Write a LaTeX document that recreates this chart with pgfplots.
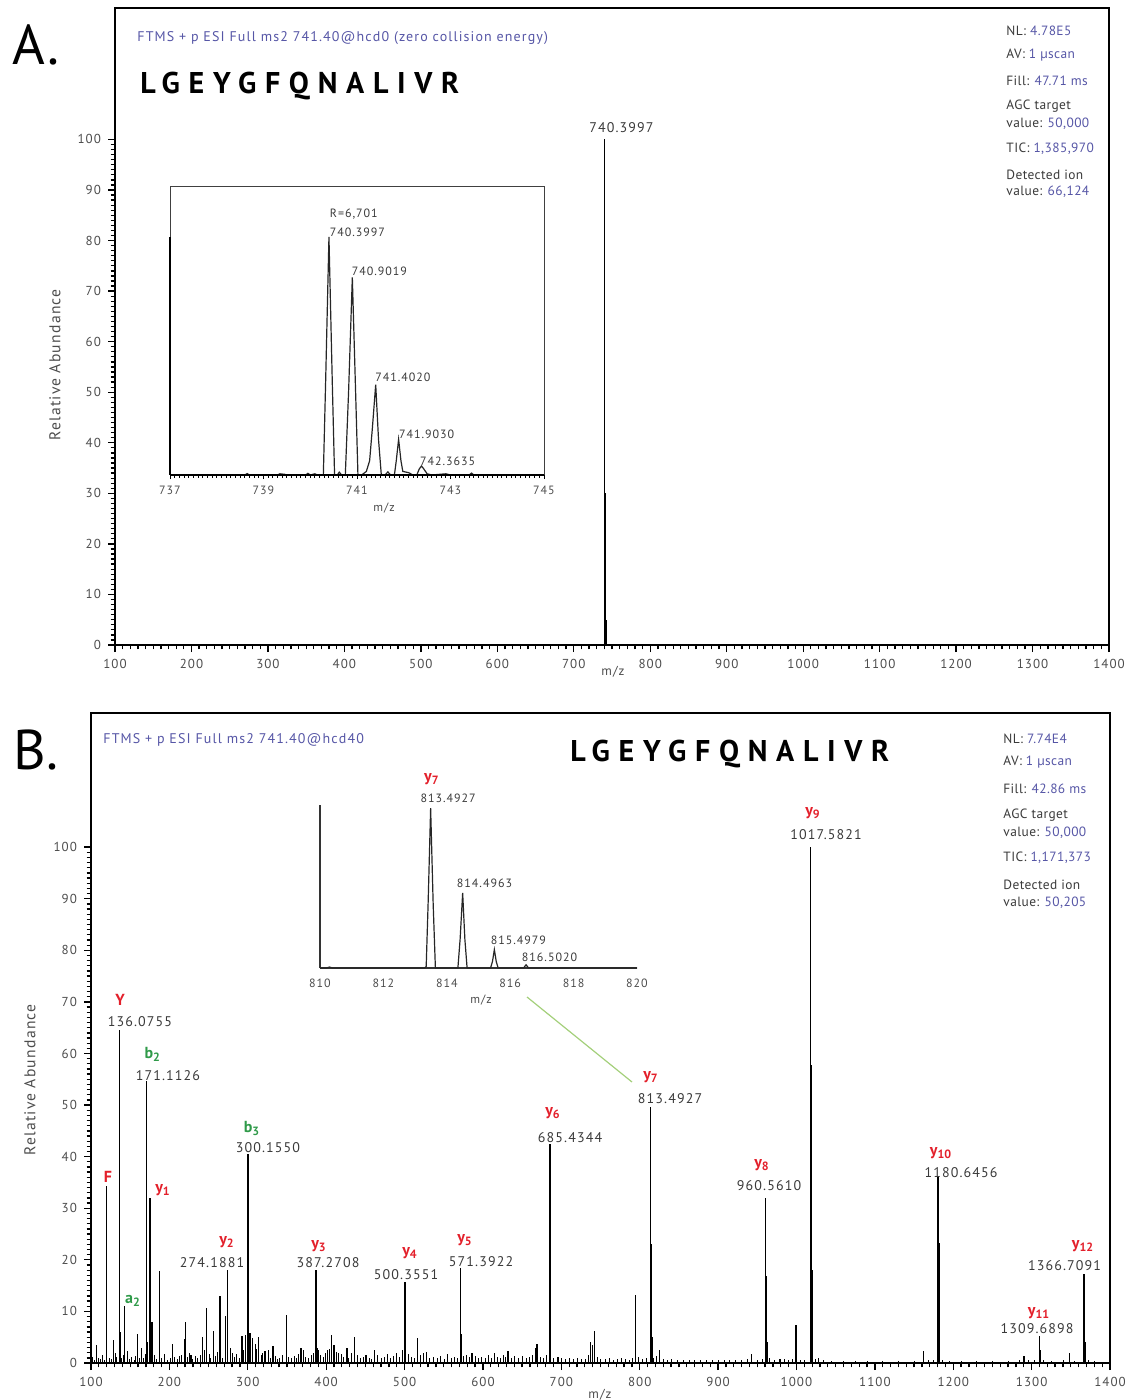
\documentclass[border=0pt]{standalone}
\usepackage{fontspec}
\setmainfont{PT Sans}
\usepackage{pgfplots}
\pgfplotsset{compat=1.18}
\definecolor{tblue}{HTML}{5656A6}
\definecolor{tred}{HTML}{E3202B}
\definecolor{tgreen}{HTML}{2F9A49}
\definecolor{lgreen}{HTML}{A3CF7A}
\definecolor{tgray}{HTML}{3A3A3A}
\newcommand\tickf{\fontsize{6.5}{7}\selectfont\addfontfeature{LetterSpace=8}}
\newcommand\labf{\fontsize{7}{8}\selectfont\addfontfeature{LetterSpace=8}}
\newcommand\ylabf{\fontsize{7.8}{8}\selectfont\addfontfeature{LetterSpace=8}}
\newcommand\insf{\fontsize{6}{7}\selectfont\addfontfeature{LetterSpace=8}}
\newcommand\inff{\fontsize{6.7}{7}\selectfont\addfontfeature{LetterSpace=3}}
\newcommand\ionf{\fontsize{8}{9}\selectfont\bfseries}
\newcommand\seqf{\fontsize{15}{16}\selectfont\bfseries\addfontfeature{LetterSpace=29}}
\newcommand\hdrf{\fontsize{7}{8}\selectfont\addfontfeature{LetterSpace=8}}
\newcommand\Yi[1]{{\color{tred}\ionf y\textsubscript{#1}}}
\newcommand\Bi[2]{{\color{tgreen}\ionf #1\textsubscript{#2}}}
\pgfplotsset{
  msax/.style={scale only axis, xmin=100, xmax=1400, ymin=0, ymax=126,
    xtick={100,200,...,1400}, ytick={0,10,...,100},
    extra x ticks={100,110,...,1400}, extra y ticks={0,1,...,100},
    extra x tick labels={}, extra y tick labels={},
    extra tick style={major tick length=2.2pt, tick style={black, line width=0.65pt}},
    tick align=outside, xtick pos=bottom, ytick pos=left,
    major tick length=3.5pt,
    every tick/.append style={black, line width=0.65pt},
    axis line style={line width=1.1pt, black},
    ticklabel style={font=\tickf, text=black!70},
    /pgf/number format/assume math mode=true,
    /pgf/number format/1000 sep={},
    clip=false},
  stick/.style={ycomb, black, line width=0.7pt, no marks},
}
\begin{document}
\begin{tikzpicture}
\useasboundingbox (0,0) rectangle (567pt,-700pt);
% ================= Panel A =================
\begin{axis}[msax, at={(57.5pt,-322.5pt)}, anchor=south west, width=497pt, height=318.5pt]
\addplot[stick] table {
x y
740.40 100
740.90 30
741.40 30
741.90 5
};
\node[font=\labf, text=tgray] at (axis cs:762.3,102.4) {740.3997};
\end{axis}
% Inset A
\begin{axis}[scale only axis, at={(85pt,-237.5pt)}, anchor=south west, width=187pt, height=144pt,
  xmin=737, xmax=745, ymin=0, ymax=121, xtick={737,739,...,745}, ytick=\empty,
  extra x ticks={737,737.1,...,745}, extra x tick labels={},
  extra x tick style={major tick length=1.3pt, tick style={black, line width=0.5pt}},
  tick align=outside, xtick pos=bottom, major tick length=2pt,
  every tick/.append style={black, line width=0.5pt},
  axis line style={line width=0.5pt, black!75},
  ticklabel style={font=\insf, text=black!70}, clip=false,
  /pgf/number format/assume math mode=true, /pgf/number format/1000 sep={}]
\addplot[black!85, line width=0.6pt, no marks] table {
x y
737.0 0
738.6 0
738.65 0.6
738.7 0
739.3 0
739.35 0.5
739.45 0.3
739.5 0
739.9 0
739.95 0.7
740.0 0
740.1 0.5
740.15 0
740.28 0
740.33 40
740.40 100
740.47 40
740.52 0
740.58 0
740.62 1.2
740.67 0
740.75 0
740.82 35
740.90 83
740.97 35
741.02 0
741.1 0
741.2 1.5
741.27 6
741.33 20
741.40 38
741.46 15
741.52 0
741.6 0
741.66 1.3
741.72 0
741.8 0
741.84 6
741.89 15
741.94 6
741.98 1.5
742.1 1
742.2 0
742.28 0
742.33 2.5
742.38 3.8
742.43 2.5
742.5 0.5
742.6 0
742.9 0.5
743.0 0
743.4 0
743.45 0.8
743.5 0
745 0
};
\draw[line width=1pt] (axis cs:737,0) -- (axis cs:745,0);
\draw[line width=1pt] (axis cs:737,0) -- (axis cs:737,100);
\node[font=\insf, text=tgray, anchor=west] at (axis cs:740.27,109.5) {R=6,701};
\node[font=\insf, text=tgray, anchor=west] at (axis cs:740.27,102.1) {740.3997};
\node[font=\insf, text=tgray, anchor=west] at (axis cs:740.74,85.7) {740.9019};
\node[font=\insf, text=tgray, anchor=west] at (axis cs:741.24,40.9) {741.4020};
\node[font=\insf, text=tgray, anchor=west] at (axis cs:741.75,17.2) {741.9030};
\node[font=\insf, text=tgray, anchor=west] at (axis cs:742.20,5.9) {742.3635};
\end{axis}
\node[font=\insf, text=black!70] at (192pt,-254pt) {m/z};
% Panel A texts
\node[font=\fontsize{28}{30}\selectfont] at (18pt,-22.5pt) {A.};
\node[font=\hdrf, text=tblue, anchor=west, inner sep=0pt] at (68.5pt,-19pt) {FTMS + p ESI Full ms2 741.40@hcd0 (zero collision energy)};
\node[font=\seqf, anchor=west, inner sep=0pt] at (70pt,-43pt) {LGEYGFQNALIVR};
\node[font=\ylabf, text=black!70, rotate=90] at (27.5pt,-182.5pt) {Relative Abundance};
\node[font=\tickf, text=black!70] at (306.5pt,-336pt) {m/z};
\begin{scope}[every node/.style={font=\inff, anchor=west, inner sep=0pt}]
\node at (503pt,-15.5pt) {\color{tgray}NL: \color{tblue}4.78E5};
\node at (503pt,-27.5pt) {\color{tgray}AV: \color{tblue}1 µscan};
\node at (503pt,-40.5pt) {\color{tgray}Fill: \color{tblue}47.71 ms};
\node at (503pt,-53pt) {\color{tgray}AGC target};
\node at (503pt,-62pt) {\color{tgray}value: \color{tblue}50,000};
\node at (503pt,-74.5pt) {\color{tgray}TIC: \color{tblue}1,385,970};
\node at (503pt,-87.5pt) {\color{tgray}Detected ion};
\node at (503pt,-96pt) {\color{tgray}value: \color{tblue}66,124};
\end{scope}
% ================= Panel B =================
\begin{axis}[msax, at={(45.5pt,-681.5pt)}, anchor=south west, width=509.5pt, height=325pt]
% noise
\addplot[ycomb, black, line width=0.45pt, no marks] table {
x y
102 1.2
104 0.6
110 1.0
112 0.8
115 1.5
117 0.5
123 1.0
126 0.7
131 2.0
133 1.2
139 0.9
141 1.6
146 2.3
149 0.8
152 1.1
155 0.6
157 1.4
162 0.9
167 1.0
169 1.8
174 1.3
181 1.5
184 0.8
190 1.0
194 1.7
197 0.6
201 0.9
207 1.1
210 0.7
213 1.3
216 1.6
223 1.2
225 2.0
230 0.8
233 1.4
236 0.9
239 1.5
245 2.5
251 1.8
253 1.0
259 1.3
261 2.2
268 1.0
278 3.0
283 1.2
286 1.8
289 1.0
295 2.6
299 3.0
311 2.7
317 1.5
319 2.0
326 2.5
329 1.0
335 1.4
338 0.8
341 1.0
344 1.6
352 1.2
356 0.9
359 1.4
362 1.0
365 1.8
371 2.5
374 1.2
378 1.0
381 1.5
384 2.0
393 1.5
396 1.1
399 2.0
404 2.8
413 2.2
419 1.8
422 1.2
429 1.0
432 2.0
440 1.5
444 1.0
447 1.2
455 1.0
458 0.8
465 1.5
470 1.0
474 1.2
478 1.8
482 1.0
486 1.4
490 2.0
494 1.2
497 2.5
505 1.8
509 1.2
512 1.0
520 1.5
528 2.2
532 1.0
537 1.2
542 1.0
546 1.4
551 0.8
555 1.8
560 1.0
564 1.2
568 1.0
575 1.4
579 1.6
583 1.2
590 1.4
594 1.0
598 1.2
603 1.0
607 1.5
611 1.0
619 1.2
622 1.0
626 1.6
629 1.2
636 1.0
640 1.4
645 1.0
650 1.3
655 1.0
659 1.2
663 1.5
673 1.2
677 1.0
681 1.6
690 1.0
700 1.0
705 0.8
710 1.0
715 0.7
720 0.9
726 0.8
731 0.7
735 1.5
746 1.2
750 0.8
756 0.7
762 0.9
767 0.6
772 0.8
782 0.8
787 0.6
791 0.9
799 1.2
803 0.7
808 0.9
818 1.0
821 1.4
830 0.8
835 0.6
841 0.7
848 0.5
856 0.6
863 0.5
870 0.6
878 0.5
885 0.6
893 0.5
900 0.6
908 0.5
915 0.6
922 0.5
930 0.6
937 0.8
950 0.6
956 0.8
966 1.0
972 0.6
985 0.7
990 0.5
995 0.8
1005 0.6
1010 0.5
1024 0.8
1035 0.5
1045 0.4
1060 0.4
1075 0.4
1090 0.3
1110 0.4
1130 0.3
1150 0.4
1168 0.5
1175 0.6
1186 0.6
1195 0.4
1210 0.3
1230 0.3
1250 0.3
1270 0.4
1284 0.5
1296 0.5
1303 0.6
1315 0.6
1325 0.4
1340 0.5
1355 0.4
1372 0.6
1380 0.4
};
% peaks
\addplot[stick] table {
x y
107.0 3.5
120.08 34.3
128.5 4.4
136.08 64.6
137.08 6
143.10 11.1
159.6 5.6
164.6 3
171.11 54.6
172.11 4
175.12 32
176.12 8
178.0 8
187.1 17.8
204.0 3.7
219.0 4.6
220.4 7.9
227.6 1.5
242.0 5.1
247.6 10.6
256.5 6.3
264.6 13
271.5 9.1
274.19 18.1
280.8 2
292.7 5.3
297.0 5.4
300.16 40.5
301.16 5.8
303.0 5.8
306.0 4.8
309.7 3.7
314.0 5.1
322.0 2.3
332.0 3.3
349.6 9.4
367.9 2.9
387.27 18.1
388.27 3
390.0 2.5
402.0 2.5
407.0 5.4
410.0 3.5
416.0 2
426.6 3
436.4 5
451.0 1.5
461.5 2.5
500.36 15.7
501.36 4
516.5 4.8
524.0 2
571.39 18.5
572.39 5.6
586.0 2
615.0 2
632.0 2.4
667.0 3
669.0 3.7
685.43 42.4
686.43 16
696.0 1.2
737.0 4
740.0 3.5
742.0 6.3
777.0 1
795.0 13.2
813.49 49.6
814.49 23
815.49 5
825.5 2.6
943.0 1.7
960.56 32
961.56 16.8
962.56 4
979.0 0.8
999.6 7.3
1017.58 100
1018.58 57.7
1019.58 18
1020.58 4
1028.0 1
1161.7 2.3
1180.65 36.2
1181.65 23.3
1182.65 8
1290.5 1.4
1309.69 5.2
1310.69 2.5
1348.0 1.9
1366.71 17.2
1367.71 13.8
1368.71 4
};
\begin{scope}[every node/.style={inner sep=0pt}]
\node at (axis cs:121.7,36.0) {\color{tred}\ionf F};
\node at (axis cs:137.0,70.3) {\color{tred}\ionf Y};
\node[font=\labf, text=tgray] at (axis cs:162.5,66.1) {136.0755};
\node at (axis cs:178.7,59.9) {\Bi{b}{2}};
\node[font=\labf, text=tgray] at (axis cs:198.2,55.8) {171.1126};
\node at (axis cs:191.9,33.5) {\Yi{1}};
\node at (axis cs:153.6,12.0) {\Bi{a}{2}};
\node at (axis cs:305.4,45.5) {\Bi{b}{3}};
\node[font=\labf, text=tgray] at (axis cs:325.8,41.7) {300.1550};
\node at (axis cs:273.5,23.4) {\Yi{2}};
\node[font=\labf, text=tgray] at (axis cs:254.4,19.4) {274.1881};
\node at (axis cs:390.9,22.7) {\Yi{3}};
\node[font=\labf, text=tgray] at (axis cs:402.4,19.4) {387.2708};
\node at (axis cs:507.0,21.3) {\Yi{4}};
\node[font=\labf, text=tgray] at (axis cs:501.9,17.1) {500.3551};
\node at (axis cs:577.2,23.8) {\Yi{5}};
\node[font=\labf, text=tgray] at (axis cs:597.6,19.6) {571.3922};
\node at (axis cs:689.4,48.4) {\Yi{6}};
\node[font=\labf, text=tgray] at (axis cs:711.1,43.6) {685.4344};
\node at (axis cs:814.5,55.4) {\Yi{7}};
\node[font=\labf, text=tgray] at (axis cs:838.7,51.2) {813.4927};
\node at (axis cs:956.1,38.4) {\Yi{8}};
\node[font=\labf, text=tgray] at (axis cs:965.0,34.3) {960.5610};
\node at (axis cs:1021.1,106.6) {\Yi{9}};
\node[font=\labf, text=tgray] at (axis cs:1037.7,102.5) {1017.5821};
\node at (axis cs:1184.5,40.7) {\Yi{10}};
\node[font=\labf, text=tgray] at (axis cs:1210.0,37.0) {1180.6456};
\node at (axis cs:1309.5,9.7) {\Yi{11}};
\node[font=\labf, text=tgray] at (axis cs:1306.9,6.6) {1309.6898};
\node at (axis cs:1365.6,22.7) {\Yi{12}};
\node[font=\labf, text=tgray] at (axis cs:1342.0,18.8) {1366.7091};
\end{scope}
\end{axis}
% Inset B
\begin{axis}[scale only axis, at={(160pt,-484pt)}, anchor=south west, width=158.5pt, height=81.5pt,
  xmin=810, xmax=820, ymin=0, ymax=102, axis x line=bottom, axis y line=left,
  axis line style={-, line width=0.7pt, black!80},
  xtick={810,812,...,820}, ytick=\empty, xtick style={draw=none},
  ticklabel style={font=\insf, text=black!70}, clip=false,
  /pgf/number format/assume math mode=true, /pgf/number format/1000 sep={}]
\addplot[black!85, line width=0.6pt, no marks] table {
x y
810 0
810.2 0
810.3 0.6
810.4 0
813.3 0
813.35 1
813.41 40
813.49 100
813.57 40
813.64 0
814.35 0
814.42 18
814.50 47
814.57 18
814.64 0
815.38 0
815.44 4
815.50 11.5
815.56 4
815.62 0
816.42 0
816.50 2
816.58 0
820 0
};
\node at (axis cs:813.53,118) {\Yi{7}};
\node[font=\insf, text=tgray] at (axis cs:814.04,106.3) {813.4927};
\node[font=\insf, text=tgray] at (axis cs:815.19,53.1) {814.4963};
\node[font=\insf, text=tgray] at (axis cs:816.26,17.5) {815.4979};
\node[font=\insf, text=tgray] at (axis cs:817.24,6.9) {816.5020};
\end{axis}
\node[font=\insf, text=black!70] at (240.5pt,-500pt) {m/z};
\draw[lgreen, line width=0.6pt] (263.5pt,-498.5pt) -- (316pt,-541pt);
% Panel B texts
\node[font=\fontsize{28}{30}\selectfont] at (18pt,-375pt) {B.};
\node[font=\hdrf, text=tblue, anchor=west, inner sep=0pt] at (51.5pt,-370pt) {FTMS + p ESI Full ms2 741.40@hcd40};
\node[font=\seqf, anchor=west, inner sep=0pt] at (285pt,-377pt) {LGEYGFQNALIVR};
\node[font=\ylabf, text=black!70, rotate=90] at (15pt,-540pt) {Relative Abundance};
\node[font=\tickf, text=black!70] at (300pt,-697.5pt) {m/z};
\begin{scope}[every node/.style={font=\inff, anchor=west, inner sep=0pt}]
\node at (501.5pt,-369.5pt) {\color{tgray}NL: \color{tblue}7.74E4};
\node at (501.5pt,-381pt) {\color{tgray}AV: \color{tblue}1 µscan};
\node at (501.5pt,-394.5pt) {\color{tgray}Fill: \color{tblue}42.86 ms};
\node at (501.5pt,-407.5pt) {\color{tgray}AGC target};
\node at (501.5pt,-416.5pt) {\color{tgray}value: \color{tblue}50,000};
\node at (501.5pt,-429pt) {\color{tgray}TIC: \color{tblue}1,171,373};
\node at (501.5pt,-442.5pt) {\color{tgray}Detected ion};
\node at (501.5pt,-451.5pt) {\color{tgray}value: \color{tblue}50,205};
\end{scope}
\end{tikzpicture}
\end{document}
